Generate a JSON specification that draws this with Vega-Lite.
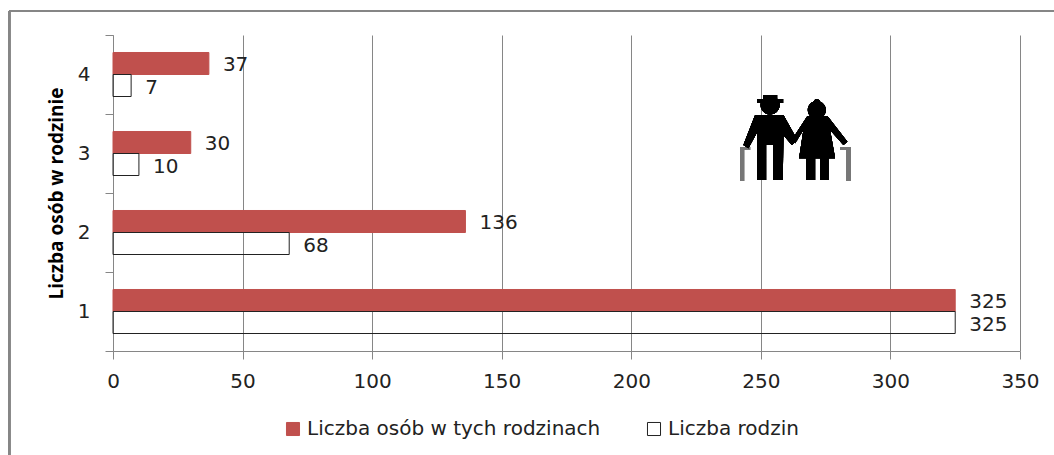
{"$schema":"https://vega.github.io/schema/vega-lite/v6.json","width":907,"height":316,"autosize":{"type":"none"},"padding":{"left":113,"top":35,"right":34,"bottom":104},"background":"white","config":{"view":{"stroke":null},"font":"DejaVu Sans"},"data":{"values":[{"osoby":"4","seria":"Liczba osób w  tych rodzinach","wartosc":37},{"osoby":"4","seria":"Liczba rodzin","wartosc":7},{"osoby":"3","seria":"Liczba osób w  tych rodzinach","wartosc":30},{"osoby":"3","seria":"Liczba rodzin","wartosc":10},{"osoby":"2","seria":"Liczba osób w  tych rodzinach","wartosc":136},{"osoby":"2","seria":"Liczba rodzin","wartosc":68},{"osoby":"1","seria":"Liczba osób w  tych rodzinach","wartosc":325},{"osoby":"1","seria":"Liczba rodzin","wartosc":325}]},"resolve":{"scale":{"y":"independent"}},"layer":[{"encoding":{"y":{"field":"osoby","type":"nominal","sort":["4","3","2","1"],"scale":{"paddingInner":0,"paddingOuter":0},"title":"Liczba osób w rodzinie","axis":{"tickBand":"extent","domainColor":"#868686","tickColor":"#868686","tickSize":8,"labelFontSize":20,"labelColor":"#222222","labelPadding":15,"labelAngle":0,"titleFontSize":19,"titleFont":"Open Sans","titleFontWeight":"bold","titleColor":"#000000","titlePadding":11}},"yOffset":{"field":"seria","type":"nominal","sort":["Liczba osób w  tych rodzinach","Liczba rodzin"],"scale":{"paddingInner":0,"paddingOuter":0.795}},"x":{"field":"wartosc","type":"quantitative","scale":{"domain":[0,350],"nice":false},"title":null,"axis":{"values":[0,50,100,150,200,250,300,350],"grid":true,"gridColor":"#868686","gridOpacity":1,"domainColor":"#868686","tickColor":"#868686","tickSize":8,"labelFontSize":20,"labelColor":"#222222","labelPadding":12,"labelFlush":false}}},"layer":[{"mark":{"type":"bar","strokeWidth":1},"encoding":{"fill":{"field":"seria","type":"nominal","sort":["Liczba osób w  tych rodzinach","Liczba rodzin"],"scale":{"range":["#C0504D","transparent"]},"legend":{"title":null,"orient":"none","legendX":170,"legendY":384,"direction":"horizontal","symbolType":"square","symbolSize":170,"symbolStrokeWidth":1,"labelFontSize":20,"labelColor":"#222222","labelLimit":500,"columnPadding":37,"labelOffset":4,"encode":{"symbols":{"update":{"stroke":{"scale":"stroke","field":"value"}}}}}},"stroke":{"field":"seria","type":"nominal","sort":["Liczba osób w  tych rodzinach","Liczba rodzin"],"scale":{"range":["#C0504D","#222222"]},"legend":null}}},{"mark":{"type":"text","align":"left","baseline":"middle","dx":14,"dy":2,"fontSize":20,"fill":"#222222"},"encoding":{"text":{"field":"wartosc","type":"quantitative"}}}]},{"layer":[{"mark":{"type":"point","filled":true,"opacity":1,"size":4,"fill":"#777777","strokeWidth":0,"shape":"M-56,9L-46,9L-46,12L-52,12L-52,43L-56,43ZM44,9L54.7,9L54.7,43L50.5,43L50.5,12L44,12Z"},"encoding":{"x":{"datum":263.6,"type":"quantitative"},"y":{"datum":67.4,"type":"quantitative","scale":{"domain":[0,100],"nice":false,"zero":false},"axis":null}}},{"mark":{"type":"point","filled":true,"opacity":1,"size":4,"fill":"#000000","strokeWidth":0,"shape":"M-35.5,-33a9.5,9.5 0 1,1 19,0a9.5,9.5 0 1,1 -19,0ZM-39,-39L-13,-39L-13,-35L-39,-35ZM-33,-43L-19,-43L-19,-37L-33,-37ZM-41,-23L-12.7,-23L-5.3,-9.7L1.3,2L-4.3,7L-12.7,-3L-13.3,42L-22.7,42L-22.7,7L-30,7L-30,42L-38.7,42L-38.7,-6.3L-47.7,10.3L-52.7,7ZM11.7,-28a9,9 0 1,1 18,0a9,9 0 1,1 -18,0ZM17.2,-35.3a3.5,3.5 0 1,1 7,0a3.5,3.5 0 1,1 -7,0ZM11.3,-22L31.3,-22L51.3,3.7L47.3,7L34,-8L39,20.3L3,20.3L7.3,-8L-1,5.3L-4.3,2ZM10,19L19,19L19,42L10,42ZM24,19L32.3,19L32.3,42L24,42Z"},"encoding":{"x":{"datum":263.6,"type":"quantitative"},"y":{"datum":67.4,"type":"quantitative","scale":{"domain":[0,100],"nice":false,"zero":false},"axis":null}}},{"mark":{"type":"rule","stroke":"#868686","strokeWidth":2},"encoding":{"x":{"datum":-40,"type":"quantitative"},"y":{"datum":107.6,"type":"quantitative","scale":{"domain":[0,100],"nice":false,"zero":false},"axis":null},"x2":{"datum":-40},"y2":{"datum":-40}}},{"mark":{"type":"rule","stroke":"#868686","strokeWidth":2},"encoding":{"x":{"datum":-40,"type":"quantitative"},"y":{"datum":107.6,"type":"quantitative","scale":{"domain":[0,100],"nice":false,"zero":false},"axis":null},"x2":{"datum":370},"y2":{"datum":107.6}}}]}]}
